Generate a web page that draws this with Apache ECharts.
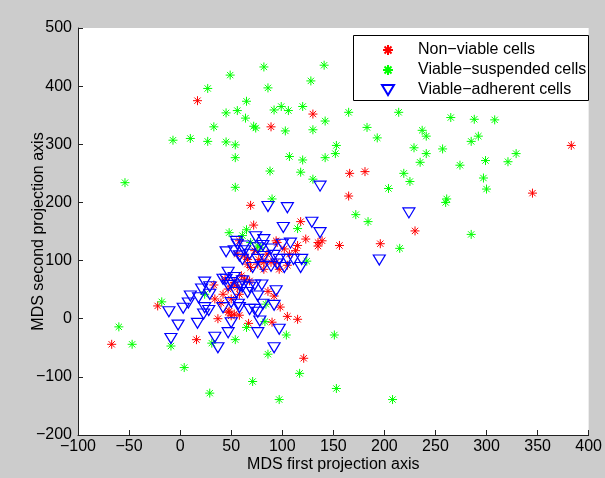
<!DOCTYPE html>
<html><head><meta charset="utf-8">
<script src="https://cdn.jsdelivr.net/npm/echarts@6/dist/echarts.min.js"></script>
<style>html,body{margin:0;padding:0;background:#cccccc;}#c{width:605px;height:478px;}</style>
</head><body><div id="c"></div>
<script>
var seriesNames = ['Non\u2212viable cells', 'Viable\u2212suspended cells', 'Viable\u2212adherent cells'];
var xTicks = [-100, 400, 50];
var yTicks = [-200, 500, 100];

var nonViable = [
[17,375],[89,330],[130,352],[166,250],[181,253],[165,211],[383,298],[345,216],[230,151],[156,126],[196,129],
[69,195],[72,161],[118,167],[123,137],[135,131],[139,134],[135,125],[115,126],[107,111],[95,131],[94,134],
[63,108],[66,94],[69,88],[76,94],[82,85],[89,97],[94,97],[85,111],[73,117],[56,111],[58,134],[77,102],[97,85],[102,120],[113,117],[66,102],[82,97],[105,92],
[44,68],[50,56],[56,54],[63,68],[68,65],[58,42],[47,51],[53,62],[42,42],[60,74],[50,34],[48,13],[53,8],[58,6],[50,5],[47,11],
[-67,-44],[-22,22],[16,-36],[37,0],[67,-8],[90,-6],[105,4],[115,-1],[121,-68],[98,20],[92,39],[86,47],[33,58],[34,34],[40,27]
];

var viableSuspended = [
[-54,234],[-7,307],[10,310],[27,305],[27,396],[33,330],[45,354],[45,304],[49,419],[54,299],[54,277],[54,226],[56,358],[64,345],[65,374],[72,331],[74,328],[82,433],[86,397],[88,254],[90,206],[92,359],[99,365],[103,323],[106,358],[107,279],[118,252],[120,365],[120,273],[128,409],[130,325],[130,240],[141,436],[142,340],[142,277],[153,298],[152,284],[165,355],[214,355],[183,329],[193,311],[237,324],[241,314],[229,294],[241,284],[235,269],[257,292],[265,346],[288,343],[308,342],[292,314],[285,305],[274,264],[299,272],[321,270],[329,284],[297,242],[300,223],[219,250],[225,236],[204,224],[261,206],[260,200],[172,179],[184,167],[215,121],[285,145],[151,-28],[153,-120],[208,-139],
[-60,-14],[-47,-44],[-9,-47],[4,-84],[29,-128],[31,-42],[54,-36],[71,-108],[86,-61],[97,-139],[104,-28],[117,-94],[-18,29],[65,-15],[83,-5],[48,148],[65,153],[61,143],[69,131],[76,125],[115,155],[124,99],[24,42],[84,25],[79,122]
];

var viableAdherent = [
[137,228],[86,193],[105,191],[224,182],[195,101],[101,157],[129,166],[137,148],
[45,115],[55,133],[56,128],[63,125],[74,141],[82,136],[81,126],[89,120],[68,111],[58,108],[61,102],[76,102],[82,107],[92,109],[100,128],[108,130],[111,102],[105,102],[97,102],[102,88],[119,102],[118,88],[95,94],[71,88],[81,90],[89,90],[53,117],[63,117],[76,122],
[47,80],[45,68],[53,71],[50,62],[58,58],[61,55],[68,54],[73,58],[80,58],[76,39],[66,45],[61,65],[42,68],[24,63],[21,51],[29,55],[29,42],[10,39],[18,36],[8,27],[3,18],[-11,12],[-2,-11],[-9,-34],[17,-8],[23,8],[24,19],[28,14],[42,19],[50,28],[58,19],[68,16],[76,11],[78,-4],[76,-24],[81,25],[92,23],[94,48],[97,-18],[92,-50],[50,-7],[47,-24],[34,-32],[37,-50],[57,25],[73,16],[47,57],[55,45]
];

var FONT = '"Liberation Sans", Arial, sans-serif';
var STAR = 'path://M0,5L10,5M5,0L5,10M1.5,1.5L8.5,8.5M8.5,1.5L1.5,8.5';
var TRI = 'path://M0,0L12,0L6,10Z';
function fmt(v){ return v < 0 ? '\u2212' + Math.abs(v) : String(v); }

var chart = echarts.init(document.getElementById('c'), null, {renderer:'canvas'});
chart.setOption({
  backgroundColor: '#cccccc',
  animation: false,
  grid: {left: 78, right: 10, top: 28, bottom: 42, show: true, backgroundColor: '#ffffff', borderWidth: 0},
  graphic: [{type:'rect', left: 353, top: 35, shape:{width: 235, height: 65}, style:{fill:'#ffffff', stroke:'#000000', lineWidth:1}, z: 10}],
  legend: {
    orient: 'vertical', left: 372, top: 35, padding: [5, 0, 0, 9],
    itemWidth: 50, itemHeight: 10, itemGap: 0, z: 20,
    textStyle: {fontFamily: FONT, fontSize: 16, color: '#000', lineHeight: 20},
    data: seriesNames
  },
  xAxis: {
    type: 'value', min: xTicks[0], max: xTicks[1], interval: xTicks[2],
    name: 'MDS first projection axis', nameLocation: 'middle', nameGap: 22, nameMoveOverlap: false,
    nameTextStyle: {fontFamily: FONT, fontSize: 16, color: '#000'},
    axisLine: {onZero: false, lineStyle: {color: '#222', width: 1}},
    axisTick: {inside: true, length: 5, lineStyle: {color: '#222'}},
    axisLabel: {fontFamily: FONT, fontSize: 16, color: '#000', margin: 4, formatter: fmt, showMinLabel: true, showMaxLabel: true, hideOverlap: false},
    splitLine: {show: false}
  },
  yAxis: {
    type: 'value', min: yTicks[0], max: yTicks[1], interval: yTicks[2],
    name: 'MDS second projection axis', nameLocation: 'middle', nameGap: 31, nameRotate: 90, nameMoveOverlap: false,
    nameTextStyle: {fontFamily: FONT, fontSize: 16, color: '#000'},
    axisLine: {onZero: false, lineStyle: {color: '#222', width: 1}},
    axisTick: {inside: true, length: 5, lineStyle: {color: '#222'}},
    axisLabel: {fontFamily: FONT, fontSize: 16, color: '#000', margin: 6, formatter: fmt, showMinLabel: true, showMaxLabel: true, hideOverlap: false},
    splitLine: {show: false}
  },
  series: [
    {name: seriesNames[0], type: 'scatter', data: nonViable, symbol: STAR, symbolSize: 9,
     itemStyle: {color: '#ff0000', borderColor: '#ff0000', borderWidth: 1, opacity: 1}},
    {name: seriesNames[1], type: 'scatter', data: viableSuspended, symbol: STAR, symbolSize: 9,
     itemStyle: {color: '#00ff00', borderColor: '#00ff00', borderWidth: 1, opacity: 1}},
    {name: seriesNames[2], type: 'scatter', data: viableAdherent, symbol: TRI, symbolSize: [12, 10],
     itemStyle: {color: 'rgba(0,0,0,0)', borderColor: '#0000ff', borderWidth: 1.2, opacity: 1}}
  ]
});
</script></body></html>
